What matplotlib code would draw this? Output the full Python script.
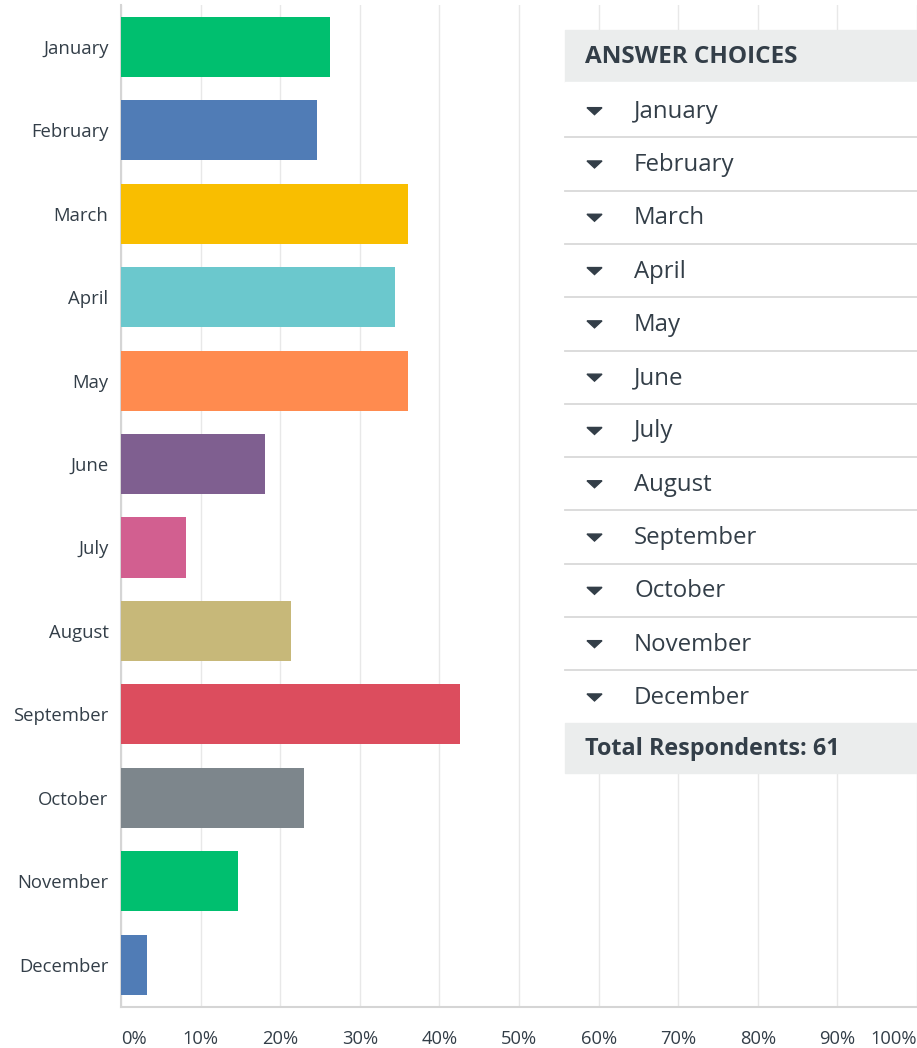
import matplotlib.pyplot as plt
from matplotlib.patches import Rectangle, Polygon

months = ["January", "February", "March", "April", "May", "June", "July",
          "August", "September", "October", "November", "December"]
counts = [16, 15, 22, 21, 22, 11, 5, 13, 26, 14, 9, 2]
total_respondents = 61
colors = ["#00bf6f", "#507cb6", "#f9be00", "#6bc8cd", "#ff8b4f", "#7f5f90",
          "#d25f90", "#c7b879", "#dc4d5e", "#7d868c", "#00bf6f", "#507cb6"]
x_ticks = [0, 10, 20, 30, 40, 50, 60, 70, 80, 90, 100]

W, H = 917, 1048
text_col = "#333e48"
fam = ["Open Sans", "DejaVu Sans"]

fig = plt.figure(figsize=(W / 100, H / 100), dpi=100)
ax = fig.add_axes([121 / W, 1 - 1006.5 / H, 1 - 121 / W, (1006.5 - 5) / H])

pct = [c / total_respondents * 100 for c in counts]
ypos = list(range(len(months)))
ax.barh(ypos, pct, height=0.72, color=colors, zorder=3)
ax.set_ylim(len(months) - 0.5, -0.5)
ax.set_xlim(0, 100)

ax.set_yticks(ypos)
ax.set_yticklabels(months, fontsize=13.3, color=text_col, family=fam)
ax.set_xticks(x_ticks)
ax.set_xticklabels([f"{t}%" for t in x_ticks], fontsize=13.2, color=text_col, family=fam)
ax.get_xticklabels()[0].set_horizontalalignment("left")
ax.get_xticklabels()[-1].set_horizontalalignment("right")
ax.tick_params(axis="y", length=0, pad=9)
ax.tick_params(axis="x", length=0, pad=17)
ax.grid(axis="x", color="#e8e8e8", linewidth=1, zorder=0)
for s in ["top", "right"]:
    ax.spines[s].set_visible(False)
ax.spines["left"].set_color("#d5d5d5")
ax.spines["bottom"].set_color("#d5d5d5")
ax.spines["left"].set_linewidth(1.5)
ax.spines["bottom"].set_linewidth(1.5)

# answer choices table overlay (pixel coords)
ov = fig.add_axes([0, 0, 1, 1], zorder=5)
ov.set_xlim(0, W)
ov.set_ylim(H, 0)
ov.axis("off")
ov.patch.set_alpha(0)

x0, x1 = 565, 917
row_h = 53.3
ov.add_patch(Rectangle((x0, 30), x1 - x0, 52, color="#ebeded", zorder=1))
ov.add_patch(Rectangle((x0, 82), x1 - x0, 723 - 82, color="white", zorder=1))
ov.text(585, 57, "ANSWER CHOICES", fontsize=17.5, fontweight="bold",
        color=text_col, va="center", ha="left", family=fam, zorder=3)
for i, m in enumerate(months):
    yc = 84 + row_h * (i + 0.5)
    ov.add_patch(Polygon([(587, yc - 3), (602, yc - 3), (594.5, yc + 4)],
                         closed=True, color=text_col, zorder=3))
    ov.text(634, yc + 1, m, fontsize=17.3, color=text_col, va="center",
            ha="left", family=fam, zorder=3)
    if i < len(months) - 1:
        yl = 84 + row_h * (i + 1)
        ov.plot([x0, x1], [yl, yl], color="#d9d9d9", lw=1.3, zorder=2)
ov.add_patch(Rectangle((x0, 723), x1 - x0, 50, color="#ebeded", zorder=1))
ov.text(585, 749, f"Total Respondents: {total_respondents}", fontsize=16.8,
        fontweight="bold", color=text_col, va="center", ha="left", family=fam, zorder=3)

fig.savefig("out.png", dpi=100)
